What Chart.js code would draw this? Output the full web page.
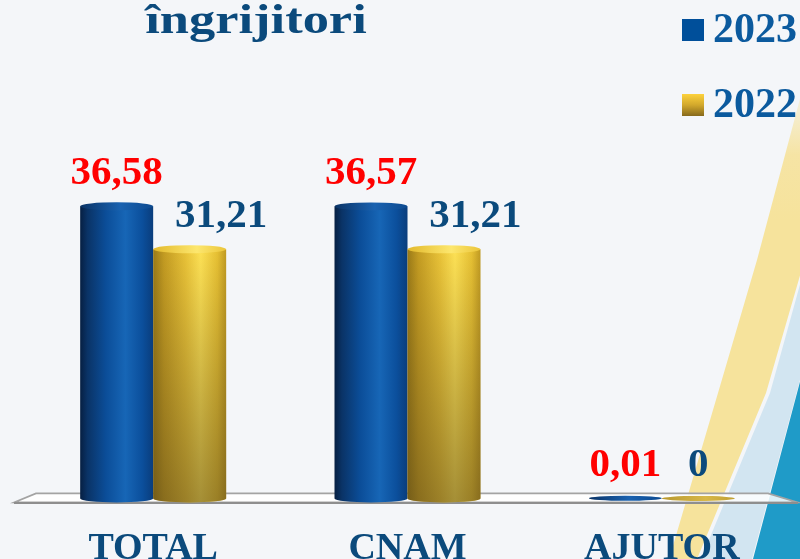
<!DOCTYPE html>
<html><head><meta charset="utf-8">
<script src="https://cdn.jsdelivr.net/npm/chart.js@4"></script>
<style>
html,body{margin:0;padding:0;background:#f4f6f9;overflow:hidden}
#wrap{width:800px;height:559px;overflow:hidden;position:relative}
canvas{display:block}
</style></head><body>
<div id="wrap"><canvas id="c" width="800" height="600"></canvas></div>
<script>
const titleText = 'îngrijitori';
const categories = ['TOTAL', 'CNAM', 'AJUTOR'];
const seriesLabels = ['2023', '2022'];
const values2023 = [36.58, 36.57, 0.01];
const values2022 = [31.21, 31.21, 0];

const SERIF = '"Liberation Serif", "Times New Roman", serif';
const DARK_BLUE = '#0b4a7c';

function fmt(v) { return String(v).replace('.', ','); }

const bgPlugin = {
  id: 'bg',
  beforeDraw(chart) {
    const ctx = chart.ctx;
    ctx.save();
    ctx.fillStyle = '#f4f6f9';
    ctx.fillRect(0, 0, chart.width, chart.height);
    // yellow band
    const gy = ctx.createLinearGradient(0, 90, 0, 220);
    gy.addColorStop(0, 'rgba(246,226,155,0.2)');
    gy.addColorStop(0.5, 'rgba(246,226,155,0.9)');
    gy.addColorStop(1, '#f6e39c');
    ctx.fillStyle = gy;
    ctx.beginPath();
    ctx.moveTo(801, 95);
    ctx.lineTo(757, 260);
    ctx.lineTo(718, 393);
    ctx.lineTo(657, 600);
    ctx.lineTo(686, 600);
    ctx.lineTo(697, 559);
    ctx.lineTo(766, 393);
    ctx.lineTo(801, 272);
    ctx.closePath();
    ctx.fill();
    // light blue band
    ctx.fillStyle = '#d2e5f1';
    ctx.beginPath();
    ctx.moveTo(801, 281);
    ctx.lineTo(770, 393);
    ctx.lineTo(701, 559);
    ctx.lineTo(690, 600);
    ctx.lineTo(740, 600);
    ctx.lineTo(752, 559);
    ctx.lineTo(801, 376);
    ctx.closePath();
    ctx.fill();
    // teal band
    ctx.fillStyle = '#1f9bc8';
    ctx.beginPath();
    ctx.moveTo(801, 378);
    ctx.lineTo(753, 559);
    ctx.lineTo(742, 600);
    ctx.lineTo(801, 600);
    ctx.closePath();
    ctx.fill();
    ctx.restore();
  }
};

const floorPlugin = {
  id: 'floor',
  beforeDatasetsDraw(chart) {
    const ctx = chart.ctx, a = chart.chartArea;
    const y0 = chart.scales.y.getPixelForValue(0);
    ctx.save();
    ctx.beginPath();
    ctx.moveTo(a.left + 10, y0 - 5);
    ctx.lineTo(a.right - 21, y0 - 5);
    ctx.lineTo(a.right + 9, y0 + 4);
    ctx.lineTo(a.left - 12, y0 + 4);
    ctx.closePath();
    ctx.fillStyle = 'rgba(255,255,255,0.85)';
    ctx.fill();
    ctx.lineWidth = 1.6;
    ctx.strokeStyle = '#a3a3a3';
    ctx.stroke();
    ctx.beginPath();
    ctx.moveTo(a.left - 12, y0 + 4.5);
    ctx.lineTo(a.right + 9, y0 + 4.5);
    ctx.lineWidth = 2;
    ctx.strokeStyle = '#8e8e8e';
    ctx.stroke();
    ctx.restore();
  }
};

function drawCyl(ctx, x, top, base, w, kind) {
  const l = x - w / 2, r = x + w / 2, rx = w / 2, ry = 4;
  const h = base - top;
  ctx.save();
  if (h > 0.5) {
    ctx.beginPath();
    ctx.moveTo(l, top);
    ctx.lineTo(l, base);
    ctx.ellipse(x, base, rx, ry, 0, Math.PI, 0, true);
    ctx.lineTo(r, top);
    ctx.closePath();
    const g = ctx.createLinearGradient(l, 0, r, 0);
    if (kind === 0) {
      g.addColorStop(0, '#061f42');
      g.addColorStop(0.1, '#0a3366');
      g.addColorStop(0.35, '#0b4d98');
      g.addColorStop(0.62, '#1766b6');
      g.addColorStop(0.85, '#0b4f9c');
      g.addColorStop(1, '#0a3d7c');
    } else {
      g.addColorStop(0, '#9a7a18');
      g.addColorStop(0.15, '#c49c22');
      g.addColorStop(0.45, '#e9c338');
      g.addColorStop(0.65, '#fde155');
      g.addColorStop(0.88, '#e6c033');
      g.addColorStop(1, '#c09a22');
    }
    ctx.fillStyle = g;
    ctx.fill();
    if (kind === 1) {
      const v = ctx.createLinearGradient(0, top, 0, base);
      v.addColorStop(0, 'rgba(80,64,25,0)');
      v.addColorStop(0.35, 'rgba(80,64,25,0.18)');
      v.addColorStop(1, 'rgba(80,64,25,0.5)');
      ctx.fillStyle = v;
      ctx.fill();
    }
  }
  // top cap
  ctx.beginPath();
  ctx.ellipse(x, top, rx, h > 0.5 ? ry : 2.5, 0, 0, Math.PI * 2);
  const c = ctx.createLinearGradient(l, 0, r, 0);
  if (kind === 0) {
    c.addColorStop(0, '#0a3366');
    c.addColorStop(0.55, '#1a62b0');
    c.addColorStop(1, '#0d4a90');
  } else {
    if (h > 0.5) {
      c.addColorStop(0, '#e2b92c');
      c.addColorStop(0.6, '#fde76e');
      c.addColorStop(1, '#ebc53a');
    } else {
      c.addColorStop(0, '#b8982e');
      c.addColorStop(0.6, '#d8b848');
      c.addColorStop(1, '#c0a034');
    }
  }
  ctx.fillStyle = c;
  ctx.fill();
  ctx.restore();
}

const cylPlugin = {
  id: 'cyl',
  afterDatasetsDraw(chart) {
    const ctx = chart.ctx;
    chart.data.datasets.forEach((ds, di) => {
      const meta = chart.getDatasetMeta(di);
      meta.data.forEach(el => {
        const p = el.getProps(['x', 'y', 'base', 'width'], true);
        drawCyl(ctx, p.x, p.y, p.base, p.width, di);
      });
    });
  }
};

const textPlugin = {
  id: 'texts',
  afterDraw(chart) {
    const ctx = chart.ctx;
    ctx.save();
    // data labels
    ctx.font = 'bold 41px ' + SERIF;
    ctx.textAlign = 'center';
    ctx.textBaseline = 'alphabetic';
    chart.data.datasets.forEach((ds, di) => {
      const meta = chart.getDatasetMeta(di);
      meta.data.forEach((el, i) => {
        const p = el.getProps(['x', 'y', 'width'], true);
        const v = ds.data[i];
        let x = p.x;
        if (di === 1 && v > 0) x += p.width * 0.43;
        ctx.fillStyle = di === 0 ? '#ff0000' : DARK_BLUE;
        ctx.fillText(fmt(v), x, p.y - 22);
      });
    });
    // title
    ctx.save();
    ctx.font = 'bold 43px ' + SERIF;
    ctx.fillStyle = DARK_BLUE;
    ctx.translate(256, 33);
    ctx.scale(1.22, 1);
    ctx.fillText(titleText, 0, 0);
    ctx.restore();
    // legend
    ctx.textAlign = 'left';
    ctx.font = 'bold 42px ' + SERIF;
    const rows = [42, 117];
    seriesLabels.forEach((lab, i) => {
      const by = rows[i];
      const sy = by - 23;
      if (i === 0) {
        ctx.fillStyle = '#004f9a';
      } else {
        const g = ctx.createLinearGradient(0, sy, 0, sy + 22);
        g.addColorStop(0, '#fdd23c');
        g.addColorStop(0.5, '#d2a82c');
        g.addColorStop(1, '#86691c');
        ctx.fillStyle = g;
      }
      ctx.fillRect(682, sy, 22, 22);
      ctx.fillStyle = '#0b5a9e';
      ctx.fillText(lab, 713, by);
    });
    ctx.restore();
  }
};

new Chart(document.getElementById('c'), {
  type: 'bar',
  data: {
    labels: categories,
    datasets: [
      { label: seriesLabels[0], data: values2023, backgroundColor: 'rgba(0,0,0,0)', borderWidth: 0, categoryPercentage: 0.574, barPercentage: 1 },
      { label: seriesLabels[1], data: values2022, backgroundColor: 'rgba(0,0,0,0)', borderWidth: 0, categoryPercentage: 0.574, barPercentage: 1 }
    ]
  },
  options: {
    responsive: false,
    animation: false,
    devicePixelRatio: 1,
    layout: { padding: { top: 179, left: 26, right: 11, bottom: 0 } },
    plugins: { legend: { display: false }, title: { display: false }, tooltip: { enabled: false } },
    scales: {
      x: {
        grid: { display: false, drawTicks: false },
        border: { display: false },
        ticks: { color: DARK_BLUE, padding: 28, font: { family: SERIF, size: 38, weight: 'bold' } }
      },
      y: { display: false, min: 0, max: 40 }
    }
  },
  plugins: [bgPlugin, floorPlugin, cylPlugin, textPlugin]
});
</script>
</body></html>
